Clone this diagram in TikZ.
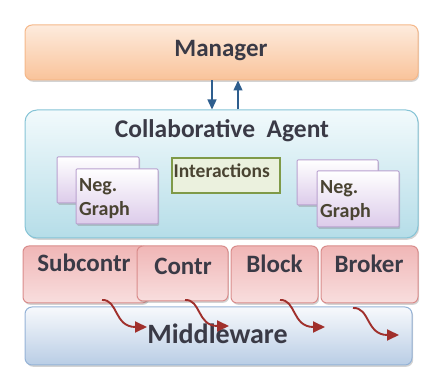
\documentclass[tikz,border=0pt]{standalone}
\usepackage{fontspec}
\setmainfont{Carlito}
\usetikzlibrary{shadows,arrows.meta}
\definecolor{mgrtop}{HTML}{FDEBDD}
\definecolor{mgrbot}{HTML}{F9C39A}
\definecolor{mgrdraw}{HTML}{F5B88A}
\definecolor{agtop}{HTML}{F2FAFC}
\definecolor{agbot}{HTML}{B5DDE8}
\definecolor{agdraw}{HTML}{86C4D6}
\definecolor{ngtop}{HTML}{FFFFFF}
\definecolor{ngbot}{HTML}{DCCBEA}
\definecolor{ngdraw}{HTML}{B9A1CF}
\definecolor{intfill}{HTML}{EBF1DE}
\definecolor{intdraw}{HTML}{7F9A48}
\definecolor{rtop}{HTML}{F0B6B6}
\definecolor{rbot}{HTML}{F8DEDE}
\definecolor{rdraw}{HTML}{D98C8B}
\definecolor{mwtop}{HTML}{F7F9FC}
\definecolor{mwbot}{HTML}{B9CDE5}
\definecolor{mwdraw}{HTML}{95B3D7}
\definecolor{txt}{HTML}{3A3A46}
\definecolor{ngtxt}{HTML}{4A4432}
\definecolor{blu}{HTML}{2E5E8E}
\definecolor{dred}{HTML}{A0302C}
\tikzset{
  box/.style={rectangle, inner sep=0pt, line width=1pt,
    drop shadow={opacity=0.35, shadow xshift=1.2pt, shadow yshift=-1.8pt}},
  mgrbox/.style={box, rounded corners=7pt, draw=mgrdraw, top color=mgrtop, bottom color=mgrbot},
  agbox/.style={box, rounded corners=12pt, draw=agdraw, top color=agtop, bottom color=agbot},
  ngbox/.style={box, rounded corners=1pt, draw=ngdraw, top color=ngtop, bottom color=ngbot},
  intbox/.style={rectangle, inner sep=0pt, line width=1.2pt, draw=intdraw, fill=intfill},
  rbox/.style={box, rounded corners=6pt, draw=rdraw, top color=rtop, bottom color=rbot},
  mwbox/.style={box, rounded corners=7pt, draw=mwdraw, top color=mwtop, bottom color=mwbot},
  bigtxt/.style={anchor=base, text=txt, font=\bfseries\fontsize{24}{28}\selectfont, inner sep=0pt},
  rowtxt/.style={bigtxt, font=\bfseries\fontsize{25}{28}\selectfont},
  ngtext/.style={anchor=base west, text=ngtxt, font=\bfseries\fontsize{20}{24}\selectfont, inner sep=0pt},
  barrow/.style={blu, line width=1.3pt, -{Triangle[length=10pt,width=9pt]}},
  rarrow/.style={dred, line width=1.9pt, -{Triangle[length=12pt,width=11pt]}},
}
\begin{document}
\begin{tikzpicture}[x=1pt,y=-1pt]
\useasboundingbox (0,0) rectangle (429,374);
% Manager
\node[mgrbox, minimum width=393pt, minimum height=55pt] (mgr) at (221.5,52.5) {};
\node[bigtxt, font=\bfseries\fontsize{25}{28}\selectfont] (mgrt) at (221,57) {Manager};
% Agent
\node[agbox, minimum width=393pt, minimum height=128pt] (agent) at (221.5,174) {};
\node[bigtxt, font=\bfseries\fontsize{25.5}{28}\selectfont] (agentt) at (222,138) {Collaborative\ \ Agent};
% Manager arrows
\draw[barrow] ([xshift=-9.5pt]mgr.south) -- ([xshift=-9.5pt]agent.north);
\draw[barrow] ([xshift=16.5pt]agent.north) -- ([xshift=16.5pt]mgr.south);
% Left negotiation graph
\node[ngbox, minimum width=82pt, minimum height=46pt] (ngl1) at (98,180) {};
\node[ngbox, minimum width=82pt, minimum height=55pt] (ngl2) at (117,196.5) {};
\node[ngtext] (nglt1) at (79,192) {Neg.};
\node[ngtext] (nglt2) at (79,216) {Graph};
% Interactions
\node[intbox, minimum width=108pt, minimum height=35pt] (int) at (226,175.5) {};
\node[anchor=base west, text=ngtxt, font=\fontsize{19.5}{22}\selectfont\bfseries, inner sep=0pt] (intt) at (173.5,178) {Interactions};
% Right negotiation graph
\node[ngbox, minimum width=81pt, minimum height=45pt] (ngr1) at (337.5,182.5) {};
\node[ngbox, minimum width=82pt, minimum height=56pt] (ngr2) at (358,199) {};
\node[ngtext] (ngrt1) at (320,194) {Neg.};
\node[ngtext] (ngrt2) at (320,218) {Graph};
% Bottom row
\node[rbox, minimum width=125pt, minimum height=57pt] (sub) at (85.5,274.5) {};
\node[rbox, minimum width=91pt, minimum height=55pt] (con) at (182.5,273.5) {};
\node[rbox, minimum width=87pt, minimum height=57pt] (blk) at (274.5,274.5) {};
\node[rbox, minimum width=97pt, minimum height=57pt] (brk) at (369.5,274.5) {};
\node[rowtxt] (subt) at (84,272) {Subcontr};
\node[rowtxt] (cont) at (183,275) {Contr};
\node[rowtxt] (blkt) at (274.5,273) {Block};
\node[rowtxt] (brkt) at (369,273) {Broker};
% Middleware
\node[mwbox, minimum width=387pt, minimum height=58pt] (mw) at (218.5,336) {};
\node[bigtxt, font=\bfseries\fontsize{28}{32}\selectfont] (mwt) at (217.5,344) {Middleware};
% Curved arrows
\coordinate (a1) at (102,300); \coordinate (b1) at (147,327);
\coordinate (a2) at (185,300); \coordinate (b2) at (229,326);
\coordinate (a3) at (280,300); \coordinate (b3) at (325,327);
\coordinate (a4) at (353,308); \coordinate (b4) at (399,335);
\draw[rarrow] (a1) .. controls (118,299) and (114,327) .. (b1);
\draw[rarrow] (a2) .. controls (201,299) and (197,326) .. (b2);
\draw[rarrow] (a3) .. controls (296,299) and (292,327) .. (b3);
\draw[rarrow] (a4) .. controls (370,307) and (366,335) .. (b4);
\end{tikzpicture}
\end{document}
